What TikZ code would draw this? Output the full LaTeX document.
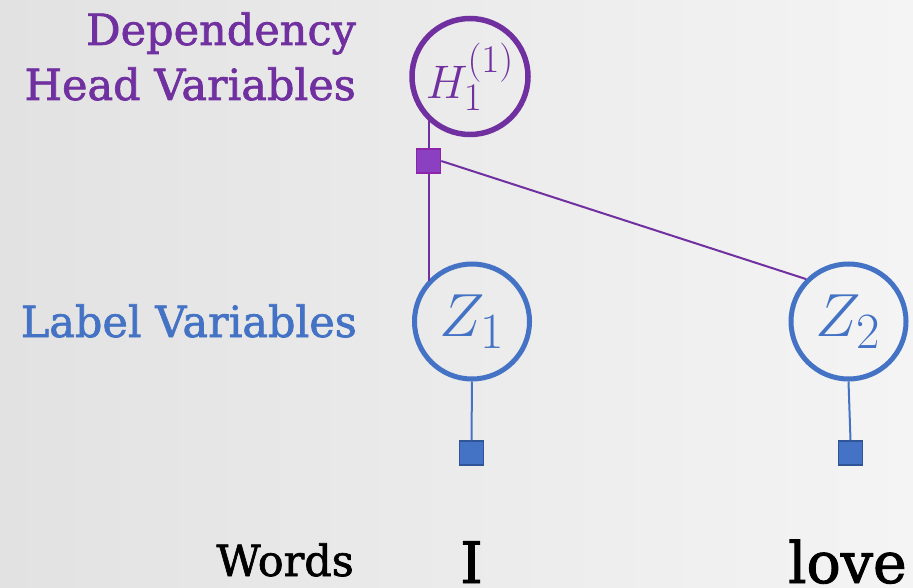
\documentclass[tikz,border=0pt]{standalone}
\usepackage{graphicx}
\usepackage{fontspec}
\newfontfamily\slab[FakeBold=1.6]{DejaVu Serif}
\definecolor{headpurple}{HTML}{7030A0}
\definecolor{factorpurple}{HTML}{8B40C2}
\definecolor{factorpurpleline}{HTML}{8E24AA}
\definecolor{labelblue}{HTML}{4472C4}
\definecolor{factorblueline}{HTML}{2F5597}
\definecolor{bgleft}{HTML}{E2E2E2}
\definecolor{bgright}{HTML}{F4F4F4}
\newcommand{\bigmath}[2]{\scalebox{#1}{\Huge$#2$}}
\tikzset{
  headvar/.style={circle, draw=headpurple, line width=5.5pt, minimum size=116pt, inner sep=0pt,
    text=headpurple},
  labelvar/.style={circle, draw=labelblue, line width=5pt, minimum size=115pt, inner sep=0pt,
    text=labelblue},
  headfactor/.style={rectangle, fill=factorpurple, draw=factorpurpleline, line width=1.5pt,
    minimum size=24pt, inner sep=0pt},
  wordfactor/.style={rectangle, fill=labelblue, draw=factorblueline, line width=1.5pt,
    minimum size=24pt, inner sep=0pt},
  headedge/.style={draw=headpurple, line width=2pt},
  wordedge/.style={draw=labelblue, line width=2pt},
  rowlabel/.style={anchor=base east, inner sep=0pt, font=\slab\fontsize{43}{43}\selectfont},
  wordtext/.style={anchor=base, inner sep=0pt, font=\slab\fontsize{57}{57}\selectfont}
}
\begin{document}
\begin{tikzpicture}[x=1pt, y=-1pt]
  % canvas and soft grey background
  \useasboundingbox (0,0) rectangle (913,588);
  \shade[left color=bgleft, right color=bgright] (0,0) rectangle (913,588);

  % row labels
  \node[rowlabel, text=headpurple] (lblDep) at (356,45) {Dependency};
  \node[rowlabel, text=headpurple] (lblHead) at (356,100) {Head Variables};
  \node[rowlabel, text=labelblue] (lblLabel) at (357,337) {Label Variables};
  \node[rowlabel, text=black] (lblWords) at (354,576) {Words};

  % variables
  \node[headvar] (H) at (470,76.5) {\bigmath{1.89}{H_1^{(1)}}};
  \node[labelvar] (Z1) at (472,321.5) {\bigmath{2.45}{Z_1}};
  \node[labelvar] (Z2) at (848.5,321.5) {\bigmath{2.45}{Z_2}};

  % factors
  \node[headfactor] (fs) at (428.5,161) {};
  \node[wordfactor] (w1) at (471.5,453) {};
  \node[wordfactor] (w2) at (850.5,453) {};

  % words
  \node[wordtext] (wI) at (471.5,583) {I};
  \node[wordtext] (wLove) at (847.5,583) {love};

  % connectors
  \draw[headedge] (fs) -- (fs |- H.226.5);
  \draw[headedge] (fs) -- (fs |- Z1.137);
  \draw[headedge] (fs.east) -- (Z2.135);
  \draw[wordedge] (Z1.south) -- (w1.north);
  \draw[wordedge] (Z2.south) -- (w2.north);
\end{tikzpicture}
\end{document}
